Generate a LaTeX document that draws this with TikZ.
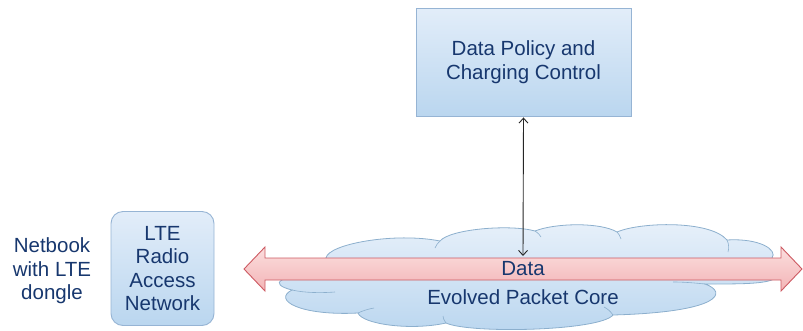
\documentclass[tikz,border=0pt]{standalone}
\usepackage{fontspec}
\setmainfont{Liberation Sans}
\usetikzlibrary{arrows.meta}
\definecolor{txtblue}{RGB}{23,55,110}
\definecolor{boxtop}{RGB}{226,237,249}
\definecolor{boxbot}{RGB}{186,214,239}
\definecolor{boxline}{RGB}{150,180,212}
\definecolor{cloudline}{RGB}{140,175,205}
\definecolor{redtop}{RGB}{251,222,222}
\definecolor{redbot}{RGB}{243,180,182}
\definecolor{redline}{RGB}{205,90,98}
\tikzset{
  lbl/.style={font=\fontsize{20.5}{23.5}\selectfont, text=txtblue, align=center, inner sep=0pt},
  pbox/.style={lbl, draw=boxline, line width=0.9pt, top color=boxtop, bottom color=boxbot},
  rbox/.style={pbox, rounded corners=12pt},
  link/.style={draw=black!85, line width=0.9pt, {Straight Barb[length=5pt,width=9pt]}-{Straight Barb[length=5pt,width=9pt]}, shorten <=1pt},
  cloudarc/.style={cloudline, line width=0.6pt},
}
\begin{document}
\begin{tikzpicture}[x=1pt,y=-1pt]
\useasboundingbox (0,0) rectangle (803,330);
% cloud
\path[draw=cloudline, line width=0.8pt, top color=boxtop!80!white, bottom color=boxbot]
 (326,258) .. controls (328,244) and (395,232) .. (440,241)
 .. controls (450,229) and (510,224) .. (535,231)
 .. controls (555,223) and (600,222) .. (617,232)
 .. controls (640,222) and (710,220) .. (727,240)
 .. controls (760,238) and (778,250) .. (772,258)
 -- (772,280)
 .. controls (760,284) and (740,284) .. (705,284)
 .. controls (728,292) and (722,312) .. (613,315)
 .. controls (600,331) and (470,334) .. (446,323)
 .. controls (410,331) and (362,324) .. (358,313)
 .. controls (300,316) and (272,300) .. (292,290)
 .. controls (280,287) and (276,283) .. (282,280)
 -- cycle;
\draw[cloudarc] (292,290) .. controls (305,293) and (322,293) .. (335,292);
\draw[cloudarc] (358,313) .. controls (362,311) and (368,309) .. (374,308);
\draw[cloudarc] (446,323) .. controls (444,320) and (443,318) .. (443,316);
\draw[cloudarc] (613,315) .. controls (611,312) and (608,309) .. (604,307);
\draw[cloudarc] (705,284) .. controls (695,283) and (685,282) .. (673,282);
\draw[cloudarc] (440,241) .. controls (438,243) and (436,245) .. (435,248);
\draw[cloudarc] (535,231) .. controls (538,233) and (540,235) .. (541,237);
\draw[cloudarc] (617,232) .. controls (619,234) and (620,236) .. (621,239);
\draw[cloudarc] (727,240) .. controls (729,244) and (729,248) .. (728,252);
% red double arrow
\path[draw=redline, line width=0.9pt, top color=redtop, bottom color=redbot]
 (244,269) -- (265,247) -- (265,258) -- (781,258) -- (781,247) -- (802,269)
 -- (781,291) -- (781,280) -- (265,280) -- (265,291) -- cycle;
\node[lbl] (data) at (523,269) {Data};
\node[lbl] (epc) at (523,297) {Evolved Packet Core};
% boxes
\node[pbox, minimum width=215pt, minimum height=108pt] (policy) at (523.5,62) {Data Policy and\\Charging Control};
\node[rbox, minimum width=103pt, minimum height=114pt] (ran) at (162.5,268.5) {LTE\\Radio\\Access\\Network};
\node[lbl] (netbook) at (52,271) {Netbook\\with LTE\\dongle};
% connector
\coordinate (bandtop) at (523,256);
\draw[link] (policy.south) -- (bandtop);
\end{tikzpicture}
\end{document}
